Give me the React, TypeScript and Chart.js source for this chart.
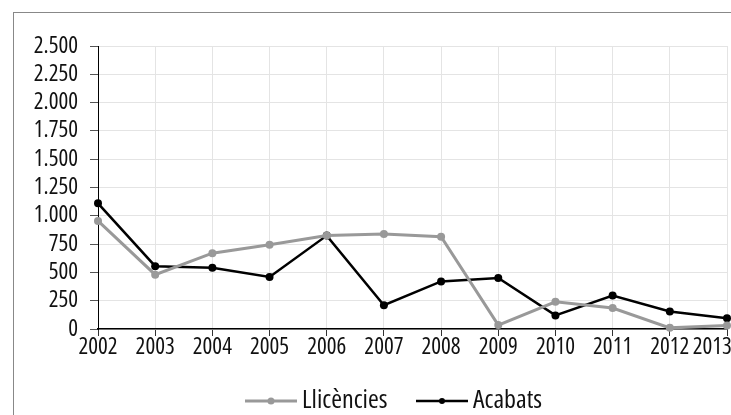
import React, { useEffect, useRef } from "react";
import { Chart, registerables } from "chart.js";

Chart.register(...registerables);

const years = ["2002", "2003", "2004", "2005", "2006", "2007", "2008", "2009", "2010", "2011", "2012", "2013"];
const llicencies = [955, 480, 670, 745, 825, 840, 815, 35, 240, 185, 10, 30];
const acabats = [1110, 555, 540, 460, 825, 210, 420, 450, 120, 295, 155, 95];
const legendLabels = ["Llicències", "Acabats"];

const GRAY = "#999999";
const BLACK = "#000000";
const FAMILY = "'Open Sans', 'Liberation Sans', sans-serif";

function fmt(v: number): string {
  const s = Math.round(v).toString();
  return s.replace(/\B(?=(\d{3})+(?!\d))/g, ".");
}

const legendPlugin = {
  id: "customLegend",
  afterDraw(chart: any) {
    const ctx = chart.ctx as CanvasRenderingContext2D;
    const y = 401;
    const items = [
      { label: legendLabels[0], color: GRAY, x0: 245, x1: 297, lw: 3, r: 3.5 },
      { label: legendLabels[1], color: BLACK, x0: 416, x1: 468, lw: 2.5, r: 3 },
    ];
    ctx.save();
    for (const it of items) {
      ctx.strokeStyle = it.color;
      ctx.lineWidth = it.lw;
      ctx.beginPath();
      ctx.moveTo(it.x0, y);
      ctx.lineTo(it.x1, y);
      ctx.stroke();
      ctx.fillStyle = it.color;
      ctx.beginPath();
      ctx.arc((it.x0 + it.x1) / 2, y, it.r, 0, Math.PI * 2);
      ctx.fill();
      ctx.fillStyle = "#111";
      ctx.font = `condensed 26px ${FAMILY}`;
      ctx.textBaseline = "middle";
      ctx.textAlign = "left";
      ctx.fillText(it.label, it.x1 + 5, y);
    }
    ctx.restore();
  },
};

export default function App() {
  const ref = useRef<HTMLCanvasElement | null>(null);

  useEffect(() => {
    if (!ref.current) return;
    const chart = new Chart(ref.current, {
      type: "line",
      data: {
        labels: years,
        datasets: [
          {
            label: legendLabels[0],
            data: llicencies,
            borderColor: GRAY,
            backgroundColor: GRAY,
            borderWidth: 3,
            pointRadius: 4,
            pointBackgroundColor: GRAY,
            pointBorderWidth: 0,
            tension: 0,
            clip: false,
          },
          {
            label: legendLabels[1],
            data: acabats,
            borderColor: BLACK,
            backgroundColor: BLACK,
            borderWidth: 2.5,
            pointRadius: 4,
            pointBackgroundColor: BLACK,
            pointBorderWidth: 0,
            tension: 0,
            clip: false,
          },
        ],
      },
      options: {
        animation: false,
        responsive: true,
        maintainAspectRatio: false,
        layout: { padding: { left: 0, right: 33, top: 46, bottom: 46 } },
        plugins: {
          legend: { display: false },
          tooltip: { enabled: false },
          title: { display: false },
        },
        scales: {
          x: {
            type: "category",
            offset: false,
            grid: {
              color: "#e4e4e4",
              tickColor: "#333",
              tickLength: 7,
              lineWidth: 1,
            },
            border: { color: "#000", width: 1.5 },
            ticks: {
              color: "#111",
              font: { family: FAMILY, size: 23, weight: "condensed" as any },
              padding: -2,
              maxRotation: 0,
              autoSkip: false,
              callback: (_v: any, i: number) =>
                i === years.length - 1 ? years[i] + "\u2007\u2007\u2007" : years[i],
            },
            afterFit(scale: any) {
              scale.height = 40;
            },
          },
          y: {
            min: 0,
            max: 2500,
            grid: {
              color: "#e4e4e4",
              tickColor: "#555",
              tickLength: 8,
              lineWidth: 1,
            },
            border: { color: "#000", width: 1 },
            ticks: {
              stepSize: 250,
              autoSkip: false,
              color: "#111",
              font: { family: FAMILY, size: 23, weight: "condensed" as any },
              padding: 12,
              callback: (v: any) => fmt(Number(v)),
            },
            afterFit(scale: any) {
              scale.width = 98;
            },
          },
        },
      },
      plugins: [legendPlugin],
    });
    return () => chart.destroy();
  }, []);

  return (
    <div
      style={{
        position: "absolute",
        left: 0,
        top: 0,
        width: 731,
        height: 415,
        overflow: "hidden",
        background: "#fff",
      }}
    >
      <div
        style={{
          position: "absolute",
          left: 13,
          top: 12,
          width: 800,
          height: 500,
          border: "1px solid #888",
          boxSizing: "border-box",
        }}
      />
      <div style={{ position: "absolute", left: 0, top: 0, width: 760, height: 415 }}>
        <canvas ref={ref} />
      </div>
    </div>
  );
}
